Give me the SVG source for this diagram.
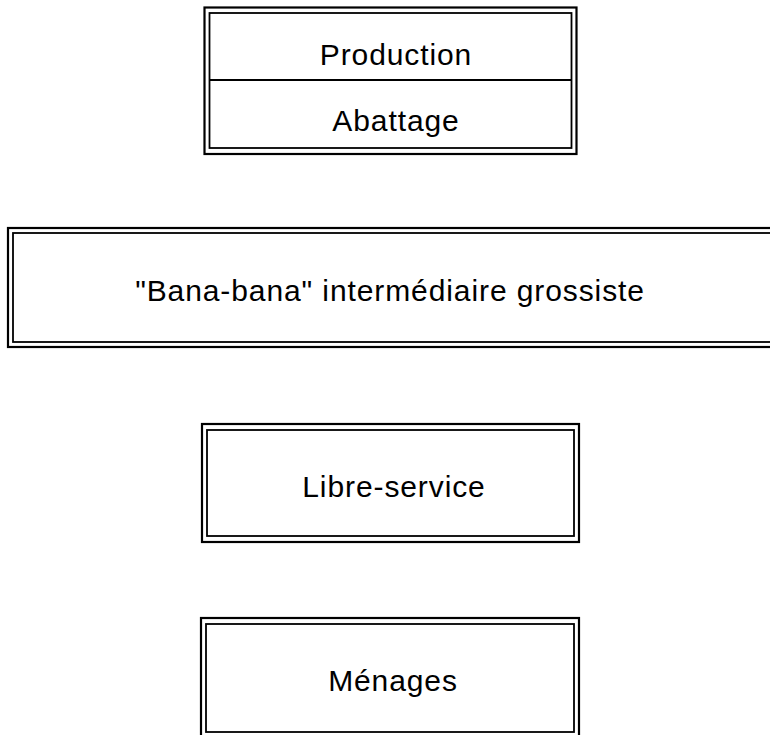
<svg xmlns="http://www.w3.org/2000/svg" width="770" height="735" viewBox="0 0 770 735">
<style>
.o{fill:none;stroke:#000;stroke-width:2.2}
.i{fill:none;stroke:#000;stroke-width:1.8}
.t{font-family:"Liberation Sans",Arial,Helvetica,sans-serif;font-size:30px;letter-spacing:0.9px;fill:#000;text-anchor:middle}
</style>
<rect width="770" height="735" fill="#fff"/>
<g id="connectors"></g>
<g id="node-production-abattage">
<rect class="o" x="204.5" y="7.5" width="372" height="146.5"/>
<rect class="i" x="209.5" y="13" width="362" height="135"/>
<line class="i" x1="209.5" y1="80" x2="571.5" y2="80"/>
<text class="t" x="396" y="65">Production</text>
<text class="t" x="396" y="131">Abattage</text>
</g>
<g id="node-bana-bana">
<rect class="o" x="8" y="228" width="775" height="119"/>
<rect class="i" x="13" y="233" width="770" height="109"/>
<text class="t" x="390" y="301">"Bana-bana" intermédiaire grossiste</text>
</g>
<g id="node-libre-service">
<rect class="o" x="202" y="424" width="377" height="118"/>
<rect class="i" x="207" y="430" width="367" height="106"/>
<text class="t" x="394" y="497">Libre-service</text>
</g>
<g id="node-menages">
<rect class="o" x="201" y="618" width="378" height="122"/>
<rect class="i" x="206" y="624" width="368" height="108"/>
<text class="t" x="393" y="691">Ménages</text>
</g>
</svg>
